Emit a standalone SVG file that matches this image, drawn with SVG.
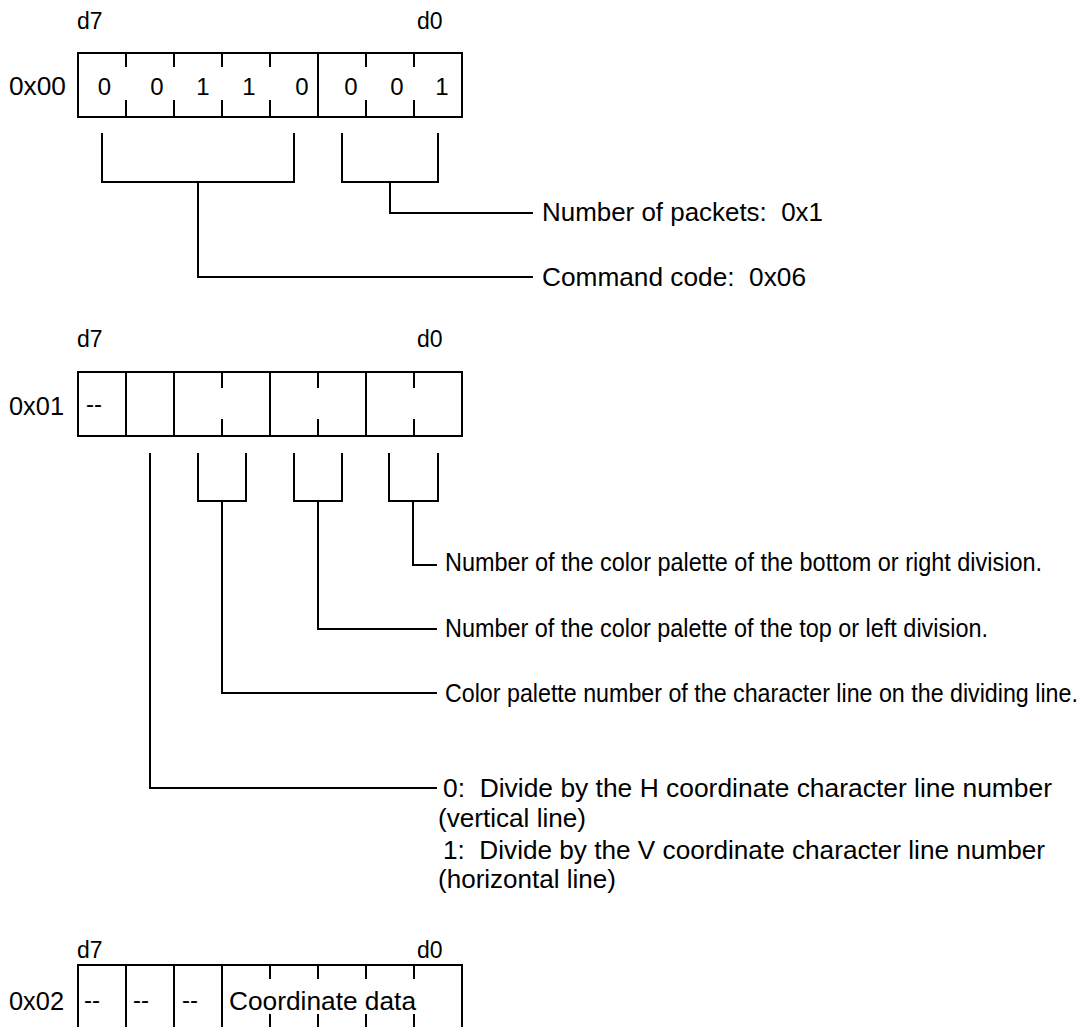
<svg xmlns="http://www.w3.org/2000/svg" width="1090" height="1027" viewBox="0 0 1090 1027" xml:space="preserve">
<style>
text{font-family:"Liberation Sans",Arial,sans-serif;fill:#000;white-space:pre}
.t{font-size:26px}
.s{font-size:23px}
.dg{font-size:24px}
.l{font-size:25px}
.box{fill:none;stroke:#000;stroke-width:2}
.ln{fill:none;stroke:#000;stroke-width:2}
</style>
<rect width="1090" height="1027" fill="#fff"/>
<g id="reg0x00">
<text class="s" x="77" y="29">d7</text>
<text class="s" x="417" y="29">d0</text>
<text class="t" x="9" y="95" textLength="57" lengthAdjust="spacingAndGlyphs">0x00</text>
<rect class="box" x="78" y="53" width="384" height="64"/>
<path class="ln" d="M318,53V117M126,53V67M174,53V67M222,53V67M270,53V67M366,53V67M414,53V67M126,100V117M174,100V117M222,100V117M270,100V117M366,100V117M414,100V117"/>
<g class="dg" text-anchor="middle">
<text x="104.5" y="95">0</text><text x="157" y="95">0</text><text x="203" y="95">1</text><text x="249" y="95">1</text><text x="302" y="95">0</text><text x="351" y="95">0</text><text x="397" y="95">0</text><text x="442" y="95">1</text>
</g>
</g>
<g id="label-packets"><text class="l" x="542" y="221" textLength="281" lengthAdjust="spacingAndGlyphs">Number of packets:  0x1</text></g>
<g id="label-command"><text class="l" x="542" y="286" textLength="264" lengthAdjust="spacingAndGlyphs">Command code:  0x06</text></g>
<g id="reg0x01">
<text class="s" x="77" y="347">d7</text>
<text class="s" x="417" y="347">d0</text>
<text class="t" x="9" y="415" textLength="55" lengthAdjust="spacingAndGlyphs">0x01</text>
<rect class="box" x="78" y="372" width="384" height="64"/>
<path class="ln" d="M126,372V436M174,372V436M270,372V436M366,372V436M222,372V388M318,372V388M414,372V388M222,419V436M318,419V436M414,419V436"/>
<text class="dg" x="86" y="412">--</text>
</g>
<g id="label-bottom-right"><text class="l" x="445" y="571" textLength="597" lengthAdjust="spacingAndGlyphs">Number of the color palette of the bottom or right division.</text></g>
<g id="label-top-left"><text class="l" x="445" y="637" textLength="543" lengthAdjust="spacingAndGlyphs">Number of the color palette of the top or left division.</text></g>
<g id="label-char-line"><text class="l" transform="translate(445,702) scale(0.93,1)" x="0" y="0">Color palette number of the character line on the dividing line.</text></g>
<g id="label-divide">
<text class="l" x="443" y="797" textLength="609" lengthAdjust="spacingAndGlyphs">0:  Divide by the H coordinate character line number</text>
<text class="l" x="438" y="827" textLength="148" lengthAdjust="spacingAndGlyphs">(vertical line)</text>
<text class="l" x="443" y="859" textLength="602" lengthAdjust="spacingAndGlyphs">1:  Divide by the V coordinate character line number</text>
<text class="l" x="438" y="888" textLength="178" lengthAdjust="spacingAndGlyphs">(horizontal line)</text>
</g>
<g id="reg0x02">
<text class="s" x="77" y="958">d7</text>
<text class="s" x="417" y="958">d0</text>
<text class="t" x="9" y="1010" textLength="55" lengthAdjust="spacingAndGlyphs">0x02</text>
<rect class="box" x="78" y="965" width="384" height="64"/>
<path class="ln" d="M126,965V1029M174,965V1029M222,965V1029M270,965V979M318,965V979M366,965V979M414,965V979M270,1014V1029M318,1014V1029M366,1014V1029M414,1014V1029"/>
<text class="dg" x="84" y="1008">--</text>
<text class="dg" x="133" y="1008">--</text>
<text class="dg" x="182" y="1008">--</text>
<text class="t" x="229" y="1010" textLength="187" lengthAdjust="spacingAndGlyphs">Coordinate data</text>
</g>
<g id="connectors" class="ln">
<path d="M102,133V182H294V133"/>
<path d="M198,182V277H533"/>
<path d="M342,133V182H438V133"/>
<path d="M390,182V213H533"/>
<path d="M150,453V788H437"/>
<path d="M198,453V501H246V453"/>
<path d="M222,501V693H437"/>
<path d="M294,453V501H342V453"/>
<path d="M318,501V629H437"/>
<path d="M389,453V501H438V453"/>
<path d="M413,501V565H437"/>
</g>
</svg>
